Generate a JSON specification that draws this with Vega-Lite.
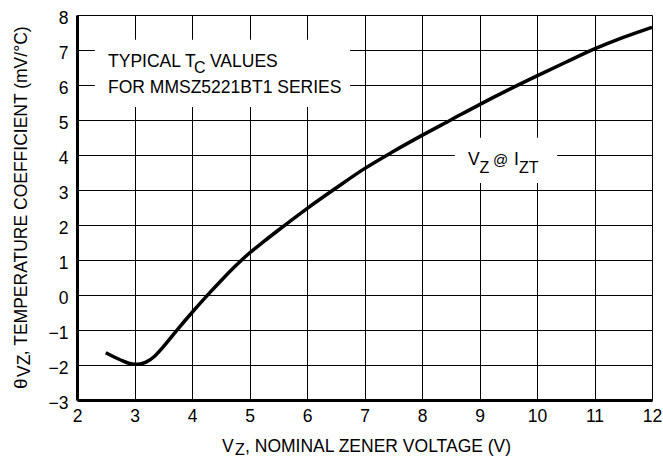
{
  "$schema": "https://vega.github.io/schema/vega-lite/v6.json",
  "width": 575,
  "height": 385,
  "autosize": {"type": "none"},
  "padding": {"left": 77, "top": 15, "right": 11, "bottom": 56},
  "background": "white",
  "config": {
    "view": {"stroke": null},
    "font": "Liberation Sans, Arial, sans-serif",
    "text": {"font": "Liberation Sans, Arial, sans-serif", "color": "black"},
    "axis": {
      "labelFont": "Liberation Sans, Arial, sans-serif",
      "labelFontSize": 17.5,
      "labelColor": "black",
      "grid": true,
      "gridColor": "black",
      "gridOpacity": 1,
      "gridWidth": 1,
      "domainColor": "black",
      "domainWidth": 3,
      "ticks": false,
      "title": null,
      "labelFlush": false,
      "labelOverlap": false,
      "format": "d"
    },
    "axisY": {"labelExpr": "datum.value < 0 ? '\u2212' + abs(datum.value) : datum.label"}
  },
  "layer": [
    {
      "data": {"values": [
        {"vz": 2.5, "tc": -1.65},
        {"vz": 2.75, "tc": -1.85},
        {"vz": 2.9, "tc": -1.95},
        {"vz": 3.0, "tc": -1.98},
        {"vz": 3.1, "tc": -1.97},
        {"vz": 3.2, "tc": -1.92},
        {"vz": 3.35, "tc": -1.75},
        {"vz": 3.5, "tc": -1.48},
        {"vz": 3.75, "tc": -0.98},
        {"vz": 4.0, "tc": -0.5},
        {"vz": 4.25, "tc": -0.04},
        {"vz": 4.5, "tc": 0.4},
        {"vz": 4.75, "tc": 0.82},
        {"vz": 5.0, "tc": 1.2},
        {"vz": 5.25, "tc": 1.53},
        {"vz": 5.5, "tc": 1.85},
        {"vz": 6.0, "tc": 2.47},
        {"vz": 6.5, "tc": 3.05},
        {"vz": 7.0, "tc": 3.61},
        {"vz": 7.5, "tc": 4.1},
        {"vz": 8.0, "tc": 4.56},
        {"vz": 8.5, "tc": 5.0},
        {"vz": 9.0, "tc": 5.44},
        {"vz": 9.5, "tc": 5.86},
        {"vz": 10.0, "tc": 6.26},
        {"vz": 10.5, "tc": 6.65},
        {"vz": 11.0, "tc": 7.03},
        {"vz": 11.5, "tc": 7.36},
        {"vz": 12.0, "tc": 7.65}
      ]},
      "mark": {"type": "line", "color": "black", "strokeWidth": 3.5, "interpolate": "monotone"},
      "encoding": {
        "x": {"field": "vz", "type": "quantitative",
              "scale": {"domain": [2, 12], "nice": false, "zero": false},
              "axis": {"values": [2,3,4,5,6,7,8,9,10,11,12], "labelPadding": 7, "format": "d"}},
        "y": {"field": "tc", "type": "quantitative",
              "scale": {"domain": [-3, 8], "nice": false, "zero": false},
              "axis": {"values": [-3,-2,-1,0,1,2,3,4,5,6,7,8], "labelPadding": 9, "labelOffset": 3, "format": "d"}}
      }
    },
    {
      "data": {"values": [{"box": "typical"}]},
      "mark": {"type": "rect", "fill": "white"},
      "encoding": {
        "x": {"datum": 2.31, "type": "quantitative", "axis": {"values": [2,3,4,5,6,7,8,9,10,11,12], "labelPadding": 7, "format": "d"}},
        "x2": {"datum": 6.75},
        "y": {"datum": 7.29, "type": "quantitative", "axis": {"values": [-3,-2,-1,0,1,2,3,4,5,6,7,8], "labelPadding": 9, "labelOffset": 3, "format": "d"}},
        "y2": {"datum": 5.37}
      }
    },
    {
      "data": {"values": [{"box": "vz"}]},
      "mark": {"type": "rect", "fill": "white"},
      "encoding": {
        "x": {"datum": 8.57, "type": "quantitative", "axis": {"values": [2,3,4,5,6,7,8,9,10,11,12], "labelPadding": 7, "format": "d"}},
        "x2": {"datum": 10.35},
        "y": {"datum": 4.49, "type": "quantitative", "axis": {"values": [-3,-2,-1,0,1,2,3,4,5,6,7,8], "labelPadding": 9, "labelOffset": 3, "format": "d"}},
        "y2": {"datum": 3.2}
      }
    },
    {
      "data": {"values": [{"t": "TYPICAL T"}]},
      "mark": {"type": "text", "align": "left", "baseline": "alphabetic", "fontSize": 17.5},
      "encoding": {"x": {"datum": 2.54, "type": "quantitative", "axis": {"values": [2,3,4,5,6,7,8,9,10,11,12], "labelPadding": 7, "format": "d"}}, "y": {"datum": 6.51, "type": "quantitative", "axis": {"values": [-3,-2,-1,0,1,2,3,4,5,6,7,8], "labelPadding": 9, "labelOffset": 3, "format": "d"}}, "text": {"field": "t"}}
    },
    {
      "data": {"values": [{"t": "C"}]},
      "mark": {"type": "text", "align": "left", "baseline": "alphabetic", "fontSize": 16, "dy": 6},
      "encoding": {"x": {"datum": 4.035, "type": "quantitative", "axis": {"values": [2,3,4,5,6,7,8,9,10,11,12], "labelPadding": 7, "format": "d"}}, "y": {"datum": 6.51, "type": "quantitative", "axis": {"values": [-3,-2,-1,0,1,2,3,4,5,6,7,8], "labelPadding": 9, "labelOffset": 3, "format": "d"}}, "text": {"field": "t"}}
    },
    {
      "data": {"values": [{"t": "VALUES"}]},
      "mark": {"type": "text", "align": "left", "baseline": "alphabetic", "fontSize": 17.5},
      "encoding": {"x": {"datum": 4.313, "type": "quantitative", "axis": {"values": [2,3,4,5,6,7,8,9,10,11,12], "labelPadding": 7, "format": "d"}}, "y": {"datum": 6.51, "type": "quantitative", "axis": {"values": [-3,-2,-1,0,1,2,3,4,5,6,7,8], "labelPadding": 9, "labelOffset": 3, "format": "d"}}, "text": {"field": "t"}}
    },
    {
      "data": {"values": [{"t": "FOR MMSZ5221BT1 SERIES"}]},
      "mark": {"type": "text", "align": "left", "baseline": "alphabetic", "fontSize": 17.5},
      "encoding": {"x": {"datum": 2.54, "type": "quantitative", "axis": {"values": [2,3,4,5,6,7,8,9,10,11,12], "labelPadding": 7, "format": "d"}}, "y": {"datum": 5.763, "type": "quantitative", "axis": {"values": [-3,-2,-1,0,1,2,3,4,5,6,7,8], "labelPadding": 9, "labelOffset": 3, "format": "d"}}, "text": {"field": "t"}}
    },
    {
      "data": {"values": [{"t": "V"}]},
      "mark": {"type": "text", "align": "left", "baseline": "alphabetic", "fontSize": 17.5},
      "encoding": {"x": {"datum": 8.8, "type": "quantitative", "axis": {"values": [2,3,4,5,6,7,8,9,10,11,12], "labelPadding": 7, "format": "d"}}, "y": {"datum": 3.714, "type": "quantitative", "axis": {"values": [-3,-2,-1,0,1,2,3,4,5,6,7,8], "labelPadding": 9, "labelOffset": 3, "format": "d"}}, "text": {"field": "t"}}
    },
    {
      "data": {"values": [{"t": "Z"}]},
      "mark": {"type": "text", "align": "left", "baseline": "alphabetic", "fontSize": 16, "dy": 7.5},
      "encoding": {"x": {"datum": 9.0, "type": "quantitative", "axis": {"values": [2,3,4,5,6,7,8,9,10,11,12], "labelPadding": 7, "format": "d"}}, "y": {"datum": 3.714, "type": "quantitative", "axis": {"values": [-3,-2,-1,0,1,2,3,4,5,6,7,8], "labelPadding": 9, "labelOffset": 3, "format": "d"}}, "text": {"field": "t"}}
    },
    {
      "data": {"values": [{"t": "@"}]},
      "mark": {"type": "text", "align": "left", "baseline": "alphabetic", "fontSize": 15},
      "encoding": {"x": {"datum": 9.235, "type": "quantitative", "axis": {"values": [2,3,4,5,6,7,8,9,10,11,12], "labelPadding": 7, "format": "d"}}, "y": {"datum": 3.714, "type": "quantitative", "axis": {"values": [-3,-2,-1,0,1,2,3,4,5,6,7,8], "labelPadding": 9, "labelOffset": 3, "format": "d"}}, "text": {"field": "t"}}
    },
    {
      "data": {"values": [{"t": "I"}]},
      "mark": {"type": "text", "align": "left", "baseline": "alphabetic", "fontSize": 17.5},
      "encoding": {"x": {"datum": 9.6, "type": "quantitative", "axis": {"values": [2,3,4,5,6,7,8,9,10,11,12], "labelPadding": 7, "format": "d"}}, "y": {"datum": 3.714, "type": "quantitative", "axis": {"values": [-3,-2,-1,0,1,2,3,4,5,6,7,8], "labelPadding": 9, "labelOffset": 3, "format": "d"}}, "text": {"field": "t"}}
    },
    {
      "data": {"values": [{"t": "ZT"}]},
      "mark": {"type": "text", "align": "left", "baseline": "alphabetic", "fontSize": 16, "dy": 7.5},
      "encoding": {"x": {"datum": 9.687, "type": "quantitative", "axis": {"values": [2,3,4,5,6,7,8,9,10,11,12], "labelPadding": 7, "format": "d"}}, "y": {"datum": 3.714, "type": "quantitative", "axis": {"values": [-3,-2,-1,0,1,2,3,4,5,6,7,8], "labelPadding": 9, "labelOffset": 3, "format": "d"}}, "text": {"field": "t"}}
    },
    {
      "data": {"values": [{"t": "V"}]},
      "mark": {"type": "text", "align": "left", "baseline": "alphabetic", "fontSize": 17.5, "dy": 51.5},
      "encoding": {"x": {"datum": 4.522, "type": "quantitative", "axis": {"values": [2,3,4,5,6,7,8,9,10,11,12], "labelPadding": 7, "format": "d"}}, "y": {"datum": -3, "type": "quantitative", "axis": {"values": [-3,-2,-1,0,1,2,3,4,5,6,7,8], "labelPadding": 9, "labelOffset": 3, "format": "d"}}, "text": {"field": "t"}}
    },
    {
      "data": {"values": [{"t": "Z"}]},
      "mark": {"type": "text", "align": "left", "baseline": "alphabetic", "fontSize": 16, "dy": 54.5},
      "encoding": {"x": {"datum": 4.748, "type": "quantitative", "axis": {"values": [2,3,4,5,6,7,8,9,10,11,12], "labelPadding": 7, "format": "d"}}, "y": {"datum": -3, "type": "quantitative", "axis": {"values": [-3,-2,-1,0,1,2,3,4,5,6,7,8], "labelPadding": 9, "labelOffset": 3, "format": "d"}}, "text": {"field": "t"}}
    },
    {
      "data": {"values": [{"t": ", NOMINAL ZENER VOLTAGE (V)"}]},
      "mark": {"type": "text", "align": "left", "baseline": "alphabetic", "fontSize": 17.5, "dy": 51.5},
      "encoding": {"x": {"datum": 4.922, "type": "quantitative", "axis": {"values": [2,3,4,5,6,7,8,9,10,11,12], "labelPadding": 7, "format": "d"}}, "y": {"datum": -3, "type": "quantitative", "axis": {"values": [-3,-2,-1,0,1,2,3,4,5,6,7,8], "labelPadding": 9, "labelOffset": 3, "format": "d"}}, "text": {"field": "t"}}
    },
    {
      "data": {"values": [{"t": "θ"}]},
      "mark": {"type": "text", "align": "left", "baseline": "alphabetic", "fontSize": 19, "angle": 270, "dy": -50},
      "encoding": {"x": {"datum": 2, "type": "quantitative", "axis": {"values": [2,3,4,5,6,7,8,9,10,11,12], "labelPadding": 7, "format": "d"}}, "y": {"datum": -2.686, "type": "quantitative", "axis": {"values": [-3,-2,-1,0,1,2,3,4,5,6,7,8], "labelPadding": 9, "labelOffset": 3, "format": "d"}}, "text": {"field": "t"}}
    },
    {
      "data": {"values": [{"t": "VZ"}]},
      "mark": {"type": "text", "align": "left", "baseline": "alphabetic", "fontSize": 17.5, "angle": 270, "dy": -47.5},
      "encoding": {"x": {"datum": 2, "type": "quantitative", "axis": {"values": [2,3,4,5,6,7,8,9,10,11,12], "labelPadding": 7, "format": "d"}}, "y": {"datum": -2.343, "type": "quantitative", "axis": {"values": [-3,-2,-1,0,1,2,3,4,5,6,7,8], "labelPadding": 9, "labelOffset": 3, "format": "d"}}, "text": {"field": "t"}}
    },
    {
      "data": {"values": [{"t": ", TEMPERATURE COEFFICIENT (mV/°C)"}]},
      "mark": {"type": "text", "align": "left", "baseline": "alphabetic", "fontSize": 17.5, "angle": 270, "dy": -50},
      "encoding": {"x": {"datum": 2, "type": "quantitative", "axis": {"values": [2,3,4,5,6,7,8,9,10,11,12], "labelPadding": 7, "format": "d"}}, "y": {"datum": -1.72, "type": "quantitative", "axis": {"values": [-3,-2,-1,0,1,2,3,4,5,6,7,8], "labelPadding": 9, "labelOffset": 3, "format": "d"}}, "text": {"field": "t"}}
    }
  ]
}
